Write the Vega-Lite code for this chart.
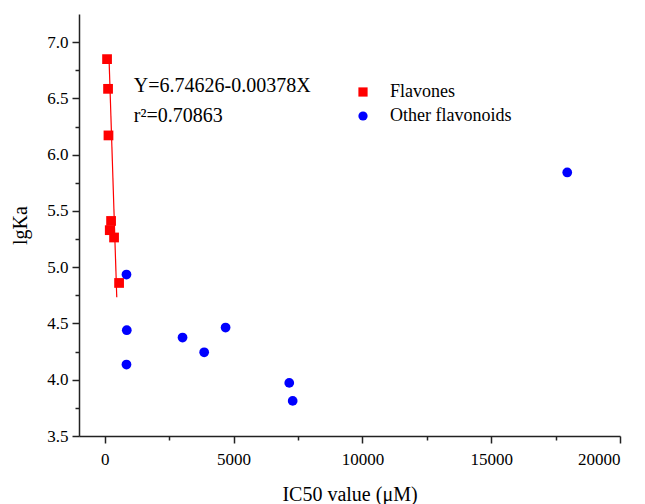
{
  "$schema": "https://vega.github.io/schema/vega-lite/v6.json",
  "width": 541,
  "height": 422,
  "autosize": "none",
  "padding": {"left": 79, "top": 14, "right": 25, "bottom": 68},
  "background": "white",
  "config": {"view": {"stroke": null}, "font": "Liberation Serif"},
  "encoding": {
    "x": {
      "field": "x", "type": "quantitative",
      "scale": {"domain": [-1000, 20000], "nice": false, "zero": false},
      "axis": {
        "title": "IC50 value (μM)",
        "values": [0, 2500, 5000, 7500, 10000, 12500, 15000, 17500, 20000],
        "format": "d",
        "labelExpr": "datum.value % 5000 == 0 ? datum.label : ''",
        "tickSize": {"condition": {"test": "datum.value % 5000 == 0", "value": 7}, "value": 4},
        "grid": false,
        "domainColor": "#222222", "tickColor": "#222222",
        "domainWidth": 1.5, "tickWidth": 1.5,
        "labelFontSize": 17, "labelColor": "#000000", "labelPadding": 8,
        "titleFontSize": 20, "titleFontWeight": "normal", "titleColor": "#000000", "titlePadding": 17
      }
    },
    "y": {
      "field": "y", "type": "quantitative",
      "scale": {"domain": [3.5, 7.25], "nice": false, "zero": false},
      "axis": {
        "title": "lgKa",
        "values": [3.5, 3.75, 4.0, 4.25, 4.5, 4.75, 5.0, 5.25, 5.5, 5.75, 6.0, 6.25, 6.5, 6.75, 7.0],
        "format": ".1f",
        "labelExpr": "datum.value * 2 % 1 == 0 ? datum.label : ''",
        "tickSize": {"condition": {"test": "datum.value * 2 % 1 == 0", "value": 7}, "value": 4},
        "grid": false,
        "domainColor": "#222222", "tickColor": "#222222",
        "domainWidth": 1.5, "tickWidth": 1.5,
        "labelFontSize": 17, "labelColor": "#000000", "labelPadding": 4,
        "titleFontSize": 20, "titleFontWeight": "normal", "titleColor": "#000000", "titlePadding": 16
      }
    }
  },
  "layer": [
    {
      "data": {"values": [
        {"x": 167, "y": 6.849},
        {"x": 466, "y": 4.733}
      ]},
      "mark": {"type": "line", "color": "#ff0000", "strokeWidth": 1.2}
    },
    {
      "data": {"values": [
        {"x": 89, "y": 6.849, "group": "Flavones"},
        {"x": 128, "y": 6.585, "group": "Flavones"},
        {"x": 144, "y": 6.171, "group": "Flavones"},
        {"x": 245, "y": 5.411, "group": "Flavones"},
        {"x": 194, "y": 5.329, "group": "Flavones"},
        {"x": 361, "y": 5.264, "group": "Flavones"},
        {"x": 556, "y": 4.860, "group": "Flavones"},
        {"x": 843, "y": 4.935, "group": "Other flavonoids"},
        {"x": 855, "y": 4.440, "group": "Other flavonoids"},
        {"x": 843, "y": 4.135, "group": "Other flavonoids"},
        {"x": 3019, "y": 4.375, "group": "Other flavonoids"},
        {"x": 3859, "y": 4.244, "group": "Other flavonoids"},
        {"x": 4690, "y": 4.464, "group": "Other flavonoids"},
        {"x": 7161, "y": 3.972, "group": "Other flavonoids"},
        {"x": 7294, "y": 3.812, "group": "Other flavonoids"},
        {"x": 17952, "y": 5.842, "group": "Other flavonoids"}
      ]},
      "mark": {"type": "point", "filled": true, "opacity": 1, "size": 95},
      "encoding": {
        "color": {
          "field": "group", "type": "nominal",
          "scale": {"domain": ["Flavones", "Other flavonoids"], "range": ["#ff0000", "#0000ff"]},
          "legend": {
            "orient": "none", "legendX": 275, "legendY": 69, "title": null,
            "labelFontSize": 18, "labelColor": "#000000", "labelOffset": 18,
            "symbolSize": 85, "rowPadding": 6, "padding": 0, "symbolStrokeWidth": 0
          }
        },
        "shape": {
          "field": "group", "type": "nominal",
          "scale": {"domain": ["Flavones", "Other flavonoids"], "range": ["square", "circle"]},
          "legend": {
            "orient": "none", "legendX": 275, "legendY": 69, "title": null,
            "labelFontSize": 18, "labelColor": "#000000", "labelOffset": 18,
            "symbolSize": 85, "rowPadding": 6, "padding": 0, "symbolStrokeWidth": 0
          }
        }
      }
    },
    {
      "data": {"values": [
        {"x": 1127, "y": 6.556, "label": "Y=6.74626-0.00378X"},
        {"x": 1127, "y": 6.292, "label": "r²=0.70863"}
      ]},
      "mark": {"type": "text", "align": "left", "baseline": "alphabetic", "fontSize": 20, "color": "#000000"},
      "encoding": {
        "text": {"field": "label", "type": "nominal"}
      }
    }
  ]
}
